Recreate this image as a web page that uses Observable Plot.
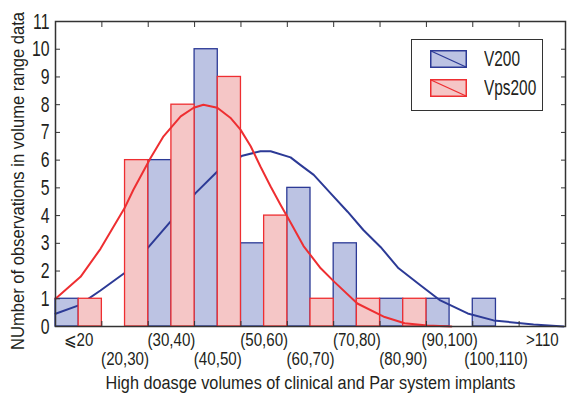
<!DOCTYPE html>
<html><head><meta charset="utf-8">
<script src="https://cdn.jsdelivr.net/npm/d3@7"></script>
<script src="https://cdn.jsdelivr.net/npm/@observablehq/plot@0.6"></script>
<style>
body{margin:0;background:#fff;}
#wrap{position:relative;width:568px;height:398px;overflow:hidden;}
.legend{position:absolute;left:411px;top:39px;width:132px;height:72px;border:1.5px solid #333;background:#fff;box-sizing:border-box;
  font-family:"Liberation Sans",Arial,sans-serif;font-size:22px;color:#231f20;}
.legend .item{position:absolute;left:18px;height:18px;display:flex;align-items:center;}
.legend .item span{margin-left:17px;line-height:18px;display:inline-block;transform:scaleX(0.7);transform-origin:0 50%;white-space:nowrap;}
</style></head>
<body><div id="wrap"></div>
<script>
// ---- data ----
const categories = ["⩽20","(20,30)","(30,40)","(40,50)","(50,60)","(60,70)","(70,80)","(80,90)","(90,100)","(100,110)",">110"];
const v200   = [1, 0, 6, 10, 3, 5, 3, 1, 1, 1, 0];
const vps200 = [1, 6, 8, 9, 4, 1, 1, 1, 0, 0, 0];
const yTicks = [0,1,2,3,4,5,6,7,8,9,10,11];
const seriesNames = ["V200", "Vps200"];
const xTitle = "High doasge volumes of clinical and Par system implants";
const yTitle = "NUmber of observations in volume range data";

// fitted curves (x in bin units, 0 = left edge of first bin)
const blueCurveX = [0, 0.50, 0.97, 1.49, 2.01, 2.48, 3.02, 3.49, 4.03, 4.42, 4.64, 5.07, 5.28, 5.57, 5.93, 6.30, 6.64, 7.01, 7.40, 7.87, 8.30, 8.89, 9.45, 10.31, 10.96];
const blueCurveY = [0.46, 0.76, 1.3, 1.93, 2.87, 3.78, 4.81, 5.59, 6.16, 6.32, 6.32, 6.1, 5.83, 5.47, 4.81, 4.14, 3.48, 2.87, 2.1, 1.49, 0.94, 0.47, 0.22, 0.07, 0.0];
const redCurveX = [0, 0.54, 0.97, 1.49, 1.68, 2.05, 2.33, 2.70, 2.98, 3.19, 3.49, 3.77, 3.99, 4.21, 4.42, 4.64, 4.85, 5.07, 5.35, 5.72, 6.02, 6.51, 7.10, 7.53, 8.02, 8.54];
const redCurveY = [1.0, 1.79, 2.8, 4.27, 4.93, 6.08, 6.86, 7.58, 7.89, 8.0, 7.89, 7.53, 7.1, 6.5, 5.77, 5.05, 4.4, 3.75, 2.9, 2.1, 1.6, 0.83, 0.34, 0.12, 0.04, 0.0];

// ---- styles ----
const BLUE_FILL = "#bcc3e3", BLUE_LINE = "#2c3a96";
const RED_FILL = "#f5c6c6", RED_LINE = "#ee2e31";
const INK = "#231f20";
const FONT = '"Liberation Sans",Arial,sans-serif';

const idx = d3.range(categories.length);
const blueBars = idx.filter(i => v200[i] > 0).map(i => ({x1: i, x2: i + 0.5, y: v200[i]}));
const redBars = idx.filter(i => vps200[i] > 0).map(i => ({x1: i + 0.5, x2: i + 1, y: vps200[i]}));
const blueCurve = blueCurveX.map((x, i) => ({x, y: blueCurveY[i]}));
const redCurve = redCurveX.map((x, i) => ({x, y: redCurveY[i]}));
const bounds = d3.range(categories.length + 1);

const plot = Plot.plot({
  width: 568, height: 398,
  marginLeft: 55, marginRight: 3, marginTop: 21, marginBottom: 72,
  style: {fontFamily: FONT, background: "#fff", color: INK, overflow: "visible"},
  x: {domain: [0, categories.length], axis: null},
  y: {domain: [0, 11], axis: null},
  marks: [
    Plot.rectY(blueBars, {x1: "x1", x2: "x2", y: "y", fill: BLUE_FILL, stroke: BLUE_LINE, strokeWidth: 1.3}),
    Plot.line(blueCurve, {x: "x", y: "y", stroke: BLUE_LINE, strokeWidth: 2}),
    Plot.rectY(redBars, {x1: "x1", x2: "x2", y: "y", fill: RED_FILL, stroke: RED_LINE, strokeWidth: 1.3}),
    Plot.line(redCurve, {x: "x", y: "y", stroke: RED_LINE, strokeWidth: 2}),
    Plot.frame({stroke: "#333", strokeWidth: 1.5}),
    Plot.axisY(yTicks, {anchor: "left", tickSize: 0, tickPadding: 6, fontSize: 22, label: null}),
    Plot.axisY(yTicks, {anchor: "left", tickSize: -5, tickFormat: () => "", stroke: "#333", label: null}),
    Plot.axisY(yTicks, {anchor: "right", tickSize: -5, tickFormat: () => "", stroke: "#333", label: null}),
    Plot.axisX(bounds, {anchor: "bottom", tickSize: -5, tickFormat: () => "", stroke: "#333", label: null}),
    Plot.axisX(bounds, {anchor: "top", tickSize: -5, tickFormat: () => "", stroke: "#333", label: null}),
    Plot.text(idx.filter(i => i % 2 === 0), {x: i => i + 0.5, text: i => categories[i], frameAnchor: "bottom", dy: 19, fontSize: 18, fill: INK}),
    Plot.text(idx.filter(i => i % 2 === 1), {x: i => i + 0.5, text: i => categories[i], frameAnchor: "bottom", dy: 38, fontSize: 18, fill: INK}),
    Plot.text([xTitle], {text: d => d, frameAnchor: "bottom", dy: 62, fontSize: 18, fill: INK}),
    Plot.text([yTitle], {text: d => d, frameAnchor: "left", textAnchor: "middle", dx: -37, dy: 7, rotate: -90, fontSize: 18, fill: INK})
  ]
});

const wrap = document.getElementById("wrap");
wrap.appendChild(plot);

// condense the text to mimic the narrow font of the original
const yTickStr = yTicks.map(String);
plot.querySelectorAll("text").forEach(t => {
  const s = t.textContent;
  if (!s) return;
  let target = null;
  const w = t.getComputedTextLength();
  if (s === xTitle) target = 410;
  else if (s === yTitle) target = 338;
  else if (categories.includes(s)) target = w * 0.84;
  else if (yTickStr.includes(s)) target = w * 0.72;
  if (target != null && w > 0) {
    t.setAttribute("textLength", target.toFixed(1));
    t.setAttribute("lengthAdjust", "spacingAndGlyphs");
  }
});

// legend
const legend = document.createElement("div");
legend.className = "legend";
const swatches = [[BLUE_FILL, BLUE_LINE], [RED_FILL, RED_LINE]];
const tops = [10, 39];
seriesNames.forEach((name, k) => {
  const item = document.createElement("div");
  item.className = "item";
  item.style.top = tops[k] + "px";
  const [f, s] = swatches[k];
  item.innerHTML = `<svg width="37" height="18"><rect x="0.75" y="0.75" width="35.5" height="16.5" fill="${f}" stroke="${s}" stroke-width="1.5"/><line x1="1" y1="1" x2="36" y2="17" stroke="${s}" stroke-width="1.3"/></svg><span>${name}</span>`;
  legend.appendChild(item);
});
wrap.appendChild(legend);
</script></body></html>
